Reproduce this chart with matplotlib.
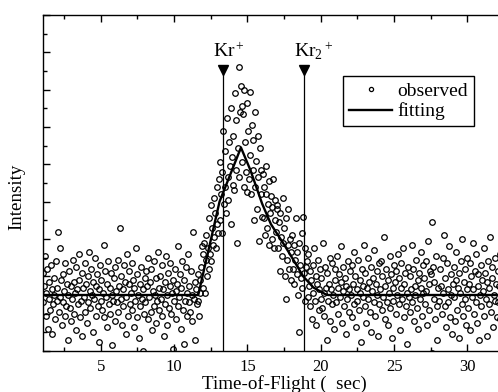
import numpy as np
import matplotlib
matplotlib.use("Agg")
import matplotlib.pyplot as plt
from matplotlib.ticker import MultipleLocator

plt.rcParams['font.family'] = ['Liberation Serif', 'DejaVu Serif']
plt.rcParams['mathtext.fontset'] = 'custom'
plt.rcParams['mathtext.rm'] = 'Liberation Serif'
plt.rcParams['mathtext.it'] = 'Liberation Serif:italic'

# observed intensity (arb. units x10), one row per microsecond, 0.05 us steps from 1.05 us
observed = [
    42, 26, 35, 51, 19, 31, 44, 12, 28, 37, 22, 46, 33, 9, 25, 39, 30, 17, 48, 27,
    34, 64, 21, 29, 55, 38, 14, 26, 41, 32, 19, 47, 24, 36, 6, 30, 43, 23, 35, 16,
    28, 49, 37, 20, 31, 45, 11, 33, 25, 52, 38, 18, 27, 42, 8, 34, 29, 47, 21, 36,
    15, 40, 26, 53, 32, 23, 44, 30, 10, 37, 28, 50, 19, 35, 41, 24, 5, 33, 46, 27,
    38, 22, 31, 57, 18, 43, 29, 36, 13, 48, 25, 34, 20, 42, 30, 3, 27, 39, 16, 45,
    32, 26, 49, 21, 35, 66, 28, 40, 14, 33, 24, 46, 37, 9, 29, 52, 19, 36, 43, 25,
    31, 47, 22, 38, 13, 34, 27, 55, 18, 41, 30, 7, 36, 24, 45, 28, 0, 33, 20, 39,
    26, 43, 35, 17, 50, 29, 37, 21, 44, 11, 32, 24, 48, 30, 15, 39, 27, 53, 34, 22,
    40, 28, 19, 46, 33, 8, 37, 25, 51, 30, 14, 42, 23, 35, 47, 20, 31, 1, 38, 27,
    44, 32, 17, 36, 56, 24, 29, 41, 12, 34, 48, 22, 38, 4, 27, 45, 31, 19, 52, 26,
    35, 21, 43, 30, 16, 64, 28, 37, 6, 33, 25, 41, 27, 19, 38, 31, 45, 56, 34, 52,
    58, 31, 49, 62, 40, 55, 71, 44, 52, 78, 48, 66, 57, 82, 61, 74, 55, 88, 68, 63,
    92, 70, 101, 84, 63, 96, 118, 79, 88, 107, 74, 125, 93, 81, 112, 99, 68, 130, 104, 89,
    115, 86, 138, 97, 124, 58, 109, 152, 93, 128, 142, 131, 101, 127, 88, 140, 112, 96, 133, 85,
    118, 92, 139, 105, 84, 121, 97, 113, 70, 128, 88, 102, 76, 115, 93, 59, 109, 84, 97, 72,
    95, 71, 88, 62, 84, 99, 66, 79, 57, 91, 74, 83, 60, 77, 92, 55, 70, 81, 64, 76,
    78, 55, 69, 43, 74, 61, 51, 82, 58, 66, 40, 28, 71, 49, 57, 76, 44, 60, 38, 53,
    62, 44, 57, 36, 49, 71, 41, 53, 30, 58, 10, 46, 39, 63, 34, 72, 42, 27, 55, 45,
    48, 29, 52, 35, 24, 43, 38, 17, 46, 31, 55, 27, 40, 14, 36, 49, 22, 33, 44, 28,
    39, 23, 58, 31, 19, 45, 34, 6, 42, 27, 36, 50, 16, 33, 25, 47, 30, 12, 38, 44,
    26, 51, 34, 20, 41, 29, 56, 37, 15, 32, 45, 24, 39, 9, 35, 28, 48, 21, 33, 43,
    30, 18, 46, 36, 25, 53, 40, 13, 33, 27, 49, 22, 38, 31, 5, 44, 29, 35, 57, 24,
    42, 15, 34, 28, 50, 37, 21, 45, 10, 32, 39, 26, 54, 19, 36, 43, 30, 8, 47, 25,
    33, 48, 22, 40, 29, 61, 17, 35, 44, 26, 38, 14, 31, 51, 23, 41, 7, 34, 27, 46,
    37, 20, 43, 30, 52, 25, 39, 11, 34, 47, 28, 55, 18, 36, 42, 24, 31, 4, 45, 29,
    21, 40, 33, 57, 26, 44, 16, 35, 30, 49, 23, 38, 12, 42, 28, 53, 34, 19, 46, 31,
    39, 25, 48, 32, 14, 59, 36, 22, 43, 41, -1, 69, 45, 28, 37, 17, 51, 24, 6, 34,
    27, -2, 44, 35, 20, 50, 31, 62, 24, 39, 13, 47, 33, 26, 56, 18, 41, 30, 9, 36,
    45, 29, 16, 38, 53, 22, 34, 42, 7, 31, 48, 25, 60, 19, 37, 28, 44, 14, 33, 50,
    23, 36, 47, 11, 40, 29, 58, 33, 20, 43, 26, 52, 15, 35, 41, 6, 30, 46, 24, 38,
    32, 55, 19, 42, 28, 37, 8, 48, 25, 34, 61, 21, 39, 45, 13, 30, 50, 27, 36, 18,
    43, 26, 35, 52, 17, 31,
]
tof_start, tof_end = 1.05, 32.30

# fitted curve
fit_tof = [1.0, 11.65, 13.1, 14.56, 15.2, 16.0, 16.6, 17.5, 18.2, 18.8, 19.5, 20.3, 20.5, 33.5]
fit_int = [3.0, 3.0, 8.0, 10.9, 9.7, 7.9, 6.8, 5.7, 4.8, 4.0, 3.4, 3.05, 3.0, 3.0]

# ion arrival markers
ion_tof = [13.36, 18.88]
ion_labels = [r'Kr$^+$', r'Kr$_2$$^+$']
marker_top = 15.05

x_min, x_max = 1.046, 33.5
y_min, y_max = 0, 18
px_per_us = 14.67

fig = plt.figure(figsize=(4.98, 3.92), dpi=100)
ax_px = (x_max - x_min) * px_per_us
ax = fig.add_axes([42.7 / 498, 41 / 392, ax_px / 498, 336 / 392])

tof = np.linspace(tof_start, tof_end, len(observed))
intensity = np.array(observed) / 10.0

ax.plot(tof, intensity, 'o', ms=4.0, mfc='none', mec='black', mew=0.9,
        label='observed')
ax.plot(fit_tof, fit_int, '-', color='black', lw=1.7, label='fitting')

for t, lab in zip(ion_tof, ion_labels):
    ax.plot([t, t], [y_min, marker_top], color='black', lw=0.9)
    ax.plot([t], [marker_top], 'v', color='black', ms=6.5, clip_on=False)
    ax.text(t - 0.68, 15.75, lab, fontsize=14, ha='left', va='baseline')

ax.set_xlim(x_min, x_max)
ax.set_ylim(y_min, y_max)
ax.xaxis.set_major_locator(MultipleLocator(5))
ax.xaxis.set_minor_locator(MultipleLocator(2.5))
ax.yaxis.set_major_locator(MultipleLocator(2))
ax.yaxis.set_minor_locator(MultipleLocator(1))
ax.tick_params(which='both', direction='in', top=True, right=True, width=1)
ax.tick_params(which='major', length=5, labelsize=12, pad=6)
ax.tick_params(which='minor', length=3)
ax.set_yticklabels([])
for sp in ax.spines.values():
    sp.set_linewidth(1.0)

ax.set_xlabel('Time-of-Flight (  sec)', fontsize=13.7)
ax.xaxis.set_label_coords((284 - 42.7) / ax_px, -0.073)
ax.set_ylabel('Intensity', fontsize=13.7)
ax.yaxis.set_label_coords((25.5 - 42.7) / ax_px, 0.459)

leg = ax.legend(loc='upper left', bbox_to_anchor=((343.3 - 42.7) / ax_px, 0.818),
                borderaxespad=0, fontsize=14, handlelength=2.2,
                handletextpad=0.3, labelspacing=0.15, borderpad=0.3,
                fancybox=False, edgecolor='black', framealpha=1,
                markerscale=0.75)
leg.get_frame().set_linewidth(1.0)

fig.savefig('out.png', dpi=100)
